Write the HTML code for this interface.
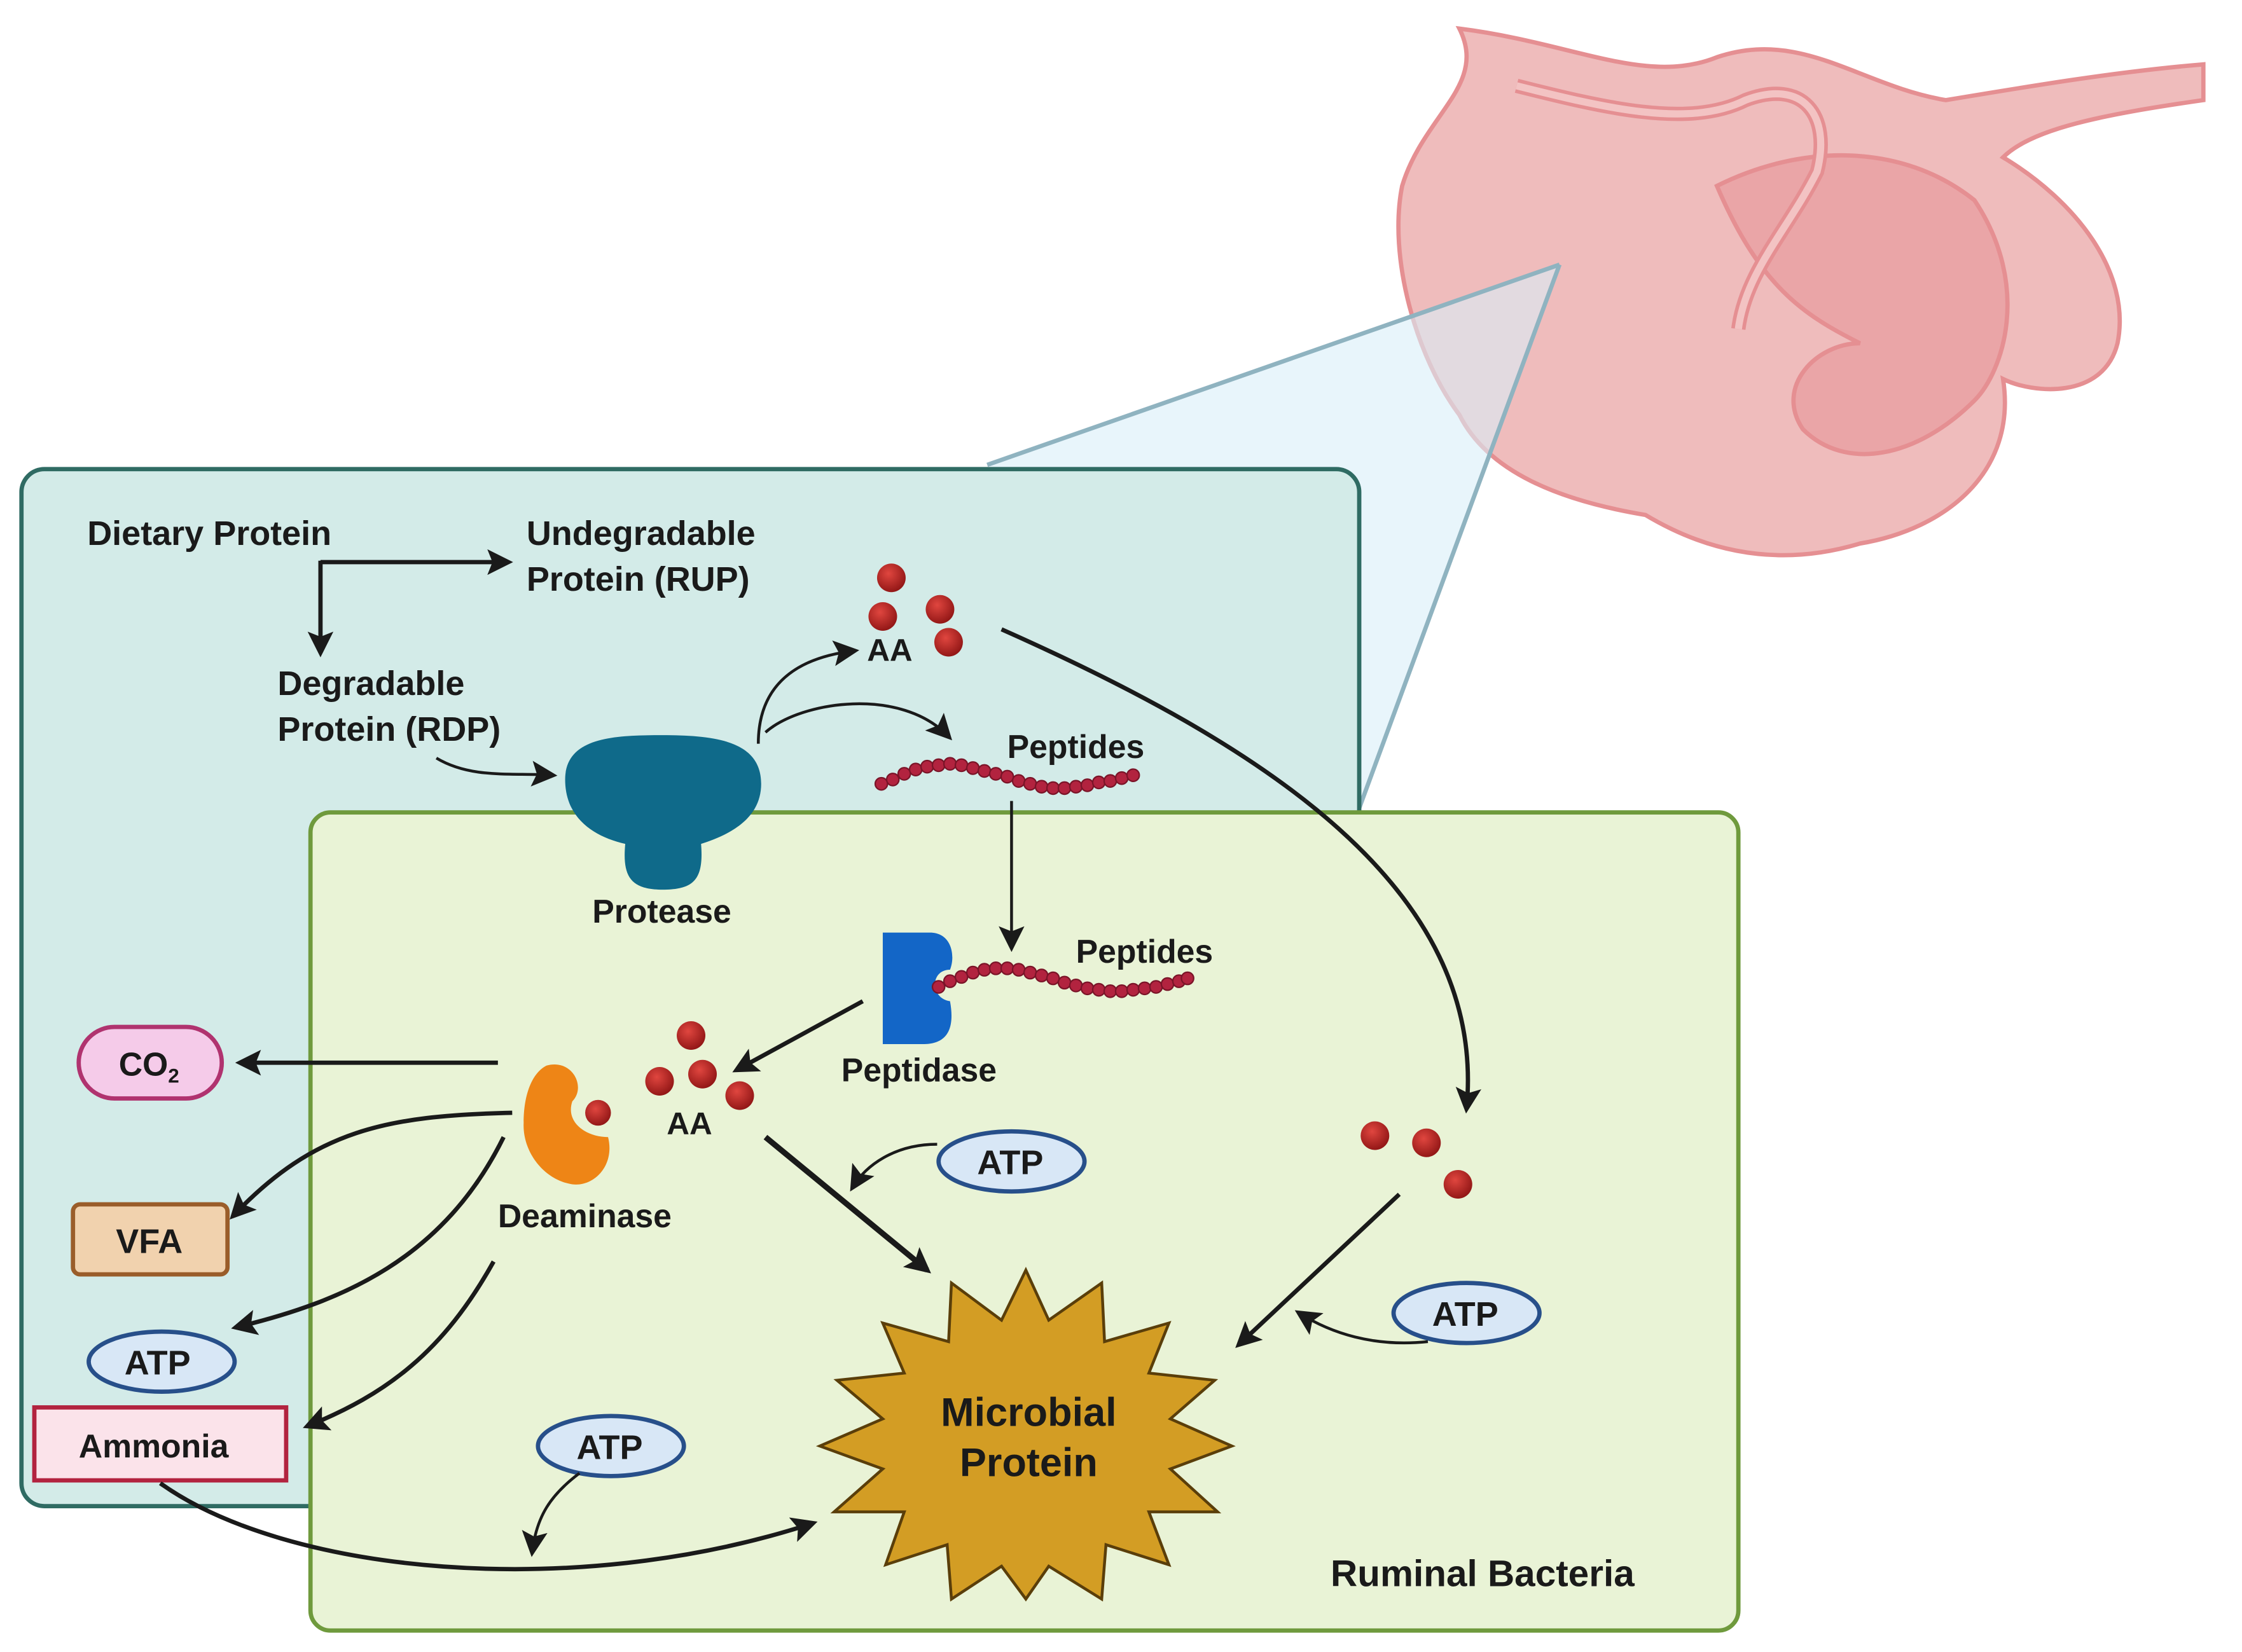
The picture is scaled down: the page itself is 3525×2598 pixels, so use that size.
<!DOCTYPE html>
<html><head><meta charset="utf-8"><style>
html,body{margin:0;padding:0;background:#fff;}
svg{display:block;}
text{font-family:"Liberation Sans",sans-serif;font-weight:bold;fill:#1a1a1a;}
</style></head><body>
<svg width="3525" height="2598" viewBox="0 0 1567 1155" preserveAspectRatio="none" xmlns="http://www.w3.org/2000/svg">
<defs>
<marker id="ah2" viewBox="0 0 10 10" refX="8" refY="5" markerWidth="18" markerHeight="18" orient="auto" markerUnits="userSpaceOnUse">
<path d="M0,0 L10,5 L0,10 L2,5 z" fill="#1a1a1a"/></marker>
<radialGradient id="aa" cx="0.4" cy="0.35" r="0.7"><stop offset="0" stop-color="#e0463f"/><stop offset="1" stop-color="#8e1414"/></radialGradient>
</defs>

<!-- stomach -->
<g fill="#efbcbc" stroke="#e58f92" stroke-width="3">
<path d="M1020,20 C1100,30 1150,60 1200,40 C1260,20 1300,60 1360,70 C1420,60 1480,50 1540,45 L1540,70 C1470,80 1420,90 1400,110 C1450,140 1490,190 1480,240 C1470,280 1420,275 1400,265 C1410,330 1360,370 1300,380 C1250,395 1200,390 1150,360 C1090,350 1040,330 1020,290 C990,250 970,180 980,130 C995,80 1040,60 1020,20 z"/>
<path d="M1200,130 C1260,100 1330,100 1380,140 C1420,200 1400,260 1380,280 C1340,320 1290,330 1260,300 C1240,270 1270,240 1300,240 C1260,220 1230,200 1200,130 z" fill="#eaa5a7"/>
<path d="M1060,60 C1120,75 1180,90 1220,70 C1260,55 1280,80 1270,120 C1250,160 1220,190 1215,230" fill="none" stroke="#e58f92" stroke-width="10"/>
<path d="M1060,60 C1120,75 1180,90 1220,70 C1260,55 1280,80 1270,120 C1250,160 1220,190 1215,230" fill="none" stroke="#f3c3c3" stroke-width="5"/>
</g>
<!-- zoom triangle -->
<polygon points="690,325 1090,185 950,565" fill="#d8eef8" opacity="0.6"/>
<line x1="690" y1="325" x2="1090" y2="185" stroke="#8fb3c0" stroke-width="3"/>
<line x1="950" y1="565" x2="1090" y2="185" stroke="#8fb3c0" stroke-width="3"/>

<!-- boxes -->
<rect x="15" y="328" width="935" height="725" rx="16" fill="#d3ebe8" stroke="#2f6b63" stroke-width="3"/>
<rect x="217" y="568" width="998" height="572" rx="14" fill="#e9f3d6" stroke="#6f9a3d" stroke-width="3"/>

<!-- top texts -->
<text x="61" y="381" font-size="24">Dietary Protein</text>
<text x="368" y="381" font-size="24">Undegradable</text>
<text x="368" y="413" font-size="24">Protein (RUP)</text>
<text x="194" y="486" font-size="24">Degradable</text>
<text x="194" y="518" font-size="24">Protein (RDP)</text>
<path d="M224,393 L355,393" fill="none" stroke="#1a1a1a" stroke-width="3" marker-end="url(#ah2)"/>
<path d="M224,392 L224,456" fill="none" stroke="#1a1a1a" stroke-width="3" marker-end="url(#ah2)"/>
<path d="M305,530 C330,545 360,540 386,542" fill="none" stroke="#1a1a1a" stroke-width="2" marker-end="url(#ah2)"/>

<!-- protease -->
<path d="M395,545 C395,515 430,514 463,514 C500,514 532,518 532,548 C532,575 505,585 490,590 C492,615 485,622 463,622 C440,622 435,612 437,590 C415,585 395,572 395,545 z" fill="#0f6a8a"/>
<text x="414" y="645" font-size="23">Protease</text>
<path d="M530,520 C530,480 555,460 597,455" fill="none" stroke="#1a1a1a" stroke-width="2" marker-end="url(#ah2)"/>
<path d="M535,512 C560,490 630,480 663,515" fill="none" stroke="#1a1a1a" stroke-width="2" marker-end="url(#ah2)"/>

<!-- AA top -->
<g fill="url(#aa)"><circle cx="623" cy="404" r="10"/><circle cx="617" cy="431" r="10"/><circle cx="657" cy="426" r="10"/><circle cx="663" cy="449" r="10"/></g>
<text x="606" y="462" font-size="22">AA</text>
<path d="M700,440 C880,520 1040,620 1025,775" fill="none" stroke="#1a1a1a" stroke-width="3" marker-end="url(#ah2)"/>

<!-- peptides top -->
<text x="704" y="530" font-size="23">Peptides</text>
<g fill="#b2233f" stroke="#7a1428" stroke-width="1">
<circle cx="616" cy="548" r="4.3"/><circle cx="624" cy="545" r="4.3"/><circle cx="632" cy="541" r="4.3"/><circle cx="640" cy="538" r="4.3"/><circle cx="648" cy="536" r="4.3"/><circle cx="656" cy="535" r="4.3"/><circle cx="664" cy="534" r="4.3"/><circle cx="672" cy="535" r="4.3"/><circle cx="680" cy="537" r="4.3"/><circle cx="688" cy="539" r="4.3"/><circle cx="696" cy="541" r="4.3"/><circle cx="704" cy="543" r="4.3"/><circle cx="712" cy="546" r="4.3"/><circle cx="720" cy="548" r="4.3"/><circle cx="728" cy="550" r="4.3"/><circle cx="736" cy="551" r="4.3"/><circle cx="744" cy="551" r="4.3"/><circle cx="752" cy="550" r="4.3"/><circle cx="760" cy="549" r="4.3"/><circle cx="768" cy="547" r="4.3"/><circle cx="776" cy="546" r="4.3"/><circle cx="784" cy="544" r="4.3"/><circle cx="792" cy="542" r="4.3"/>
</g>
<line x1="707" y1="560" x2="707" y2="662" stroke="#1a1a1a" stroke-width="2" marker-end="url(#ah2)"/>

<!-- peptidase -->
<path d="M617,652 L650,652 C665,652 668,668 664,678 C650,678 650,698 664,700 C668,722 660,730 645,730 L617,730 z" fill="#1366c7"/>
<g fill="#b2233f" stroke="#7a1428" stroke-width="1">
<circle cx="656" cy="690" r="4.3"/><circle cx="664" cy="686" r="4.3"/><circle cx="672" cy="683" r="4.3"/><circle cx="680" cy="680" r="4.3"/><circle cx="688" cy="678" r="4.3"/><circle cx="696" cy="677" r="4.3"/><circle cx="704" cy="677" r="4.3"/><circle cx="712" cy="678" r="4.3"/><circle cx="720" cy="680" r="4.3"/><circle cx="728" cy="682" r="4.3"/><circle cx="736" cy="684" r="4.3"/><circle cx="744" cy="687" r="4.3"/><circle cx="752" cy="689" r="4.3"/><circle cx="760" cy="691" r="4.3"/><circle cx="768" cy="692" r="4.3"/><circle cx="776" cy="693" r="4.3"/><circle cx="784" cy="693" r="4.3"/><circle cx="792" cy="692" r="4.3"/><circle cx="800" cy="691" r="4.3"/><circle cx="808" cy="690" r="4.3"/><circle cx="816" cy="688" r="4.3"/><circle cx="824" cy="686" r="4.3"/><circle cx="830" cy="684" r="4.3"/>
</g>
<text x="752" y="673" font-size="23">Peptides</text>
<text x="588" y="756" font-size="23">Peptidase</text>
<line x1="603" y1="700" x2="515" y2="748" stroke="#1a1a1a" stroke-width="3" marker-end="url(#ah2)"/>

<!-- AA middle -->
<g fill="url(#aa)"><circle cx="483" cy="724" r="10"/><circle cx="461" cy="756" r="10"/><circle cx="491" cy="751" r="10"/><circle cx="517" cy="766" r="10"/></g>
<text x="466" y="793" font-size="22">AA</text>
<line x1="535" y1="795" x2="648" y2="888" stroke="#1a1a1a" stroke-width="4" marker-end="url(#ah2)"/>

<!-- deaminase -->
<path d="M382,745 C400,740 410,760 400,770 C395,785 410,795 425,795 C430,815 415,830 400,828 C380,825 365,805 366,785 C366,765 372,750 382,745 z" fill="#ee8516"/>
<circle cx="418" cy="778" r="9" fill="url(#aa)"/>
<text x="348" y="858" font-size="23">Deaminase</text>

<!-- left outputs -->
<line x1="348" y1="743" x2="168" y2="743" stroke="#1a1a1a" stroke-width="3" marker-end="url(#ah2)"/>
<rect x="55" y="718" width="100" height="50" rx="25" fill="#f5cbe9" stroke="#b0336f" stroke-width="3"/>
<text x="83" y="752" font-size="23">CO<tspan font-size="14" dy="5">2</tspan></text>
<path d="M358,778 C270,780 220,790 163,850" fill="none" stroke="#1a1a1a" stroke-width="3" marker-end="url(#ah2)"/>
<rect x="51" y="842" width="108" height="49" rx="5" fill="#f1d2ae" stroke="#9a5d2a" stroke-width="3"/>
<text x="81" y="876" font-size="24">VFA</text>
<path d="M352,795 C310,880 240,910 165,928" fill="none" stroke="#1a1a1a" stroke-width="3" marker-end="url(#ah2)"/>
<ellipse cx="113" cy="952" rx="51" ry="21" fill="#d8e7f6" stroke="#274f8a" stroke-width="3"/>
<text x="87" y="961" font-size="24" font-weight="normal">ATP</text>
<path d="M345,882 C310,945 270,975 215,997" fill="none" stroke="#1a1a1a" stroke-width="3" marker-end="url(#ah2)"/>
<rect x="24" y="984" width="176" height="51" fill="#fbe3ea" stroke="#b2233f" stroke-width="3"/>
<text x="55" y="1019" font-size="23">Ammonia</text>
<path d="M112,1037 C200,1100 400,1120 568,1065" fill="none" stroke="#1a1a1a" stroke-width="3" marker-end="url(#ah2)"/>

<!-- ATPs -->
<ellipse cx="427" cy="1011" rx="51" ry="21" fill="#d8e7f6" stroke="#274f8a" stroke-width="3"/>
<text x="403" y="1020" font-size="24" font-weight="normal">ATP</text>
<path d="M405,1030 C385,1045 375,1060 372,1085" fill="none" stroke="#1a1a1a" stroke-width="2" marker-end="url(#ah2)"/>
<ellipse cx="707" cy="812" rx="51" ry="21" fill="#d8e7f6" stroke="#274f8a" stroke-width="3"/>
<text x="683" y="821" font-size="24" font-weight="normal">ATP</text>
<path d="M655,800 C625,800 605,815 596,830" fill="none" stroke="#1a1a1a" stroke-width="2" marker-end="url(#ah2)"/>
<ellipse cx="1025" cy="918" rx="51" ry="21" fill="#d8e7f6" stroke="#274f8a" stroke-width="3"/>
<text x="1001" y="927" font-size="24" font-weight="normal">ATP</text>
<path d="M998,938 C960,942 930,932 908,918" fill="none" stroke="#1a1a1a" stroke-width="2" marker-end="url(#ah2)"/>

<!-- right AA -->
<g fill="url(#aa)"><circle cx="961" cy="794" r="10"/><circle cx="997" cy="799" r="10"/><circle cx="1019" cy="828" r="10"/></g>
<line x1="978" y1="835" x2="866" y2="940" stroke="#1a1a1a" stroke-width="3" marker-end="url(#ah2)"/>

<!-- microbial protein star -->
<polygon fill="#d39d24" stroke="#5a3e0a" stroke-width="2" points="717,888 733,923 770,897 772,938 817,925 803,960 849,965 818,992 861,1011 818,1027 851,1057 803,1057 817,1094 773,1080 770,1118 733,1095 717,1118 700,1095 665,1118 662,1080 619,1094 632,1057 583,1057 617,1027 573,1011 617,992 585,965 632,960 617,925 663,938 665,897 700,923"/>
<text x="719" y="997" font-size="28" text-anchor="middle">Microbial</text>
<text x="719" y="1032" font-size="28" text-anchor="middle">Protein</text>

<text x="930" y="1109" font-size="26">Ruminal Bacteria</text>
</svg>
</body></html>
